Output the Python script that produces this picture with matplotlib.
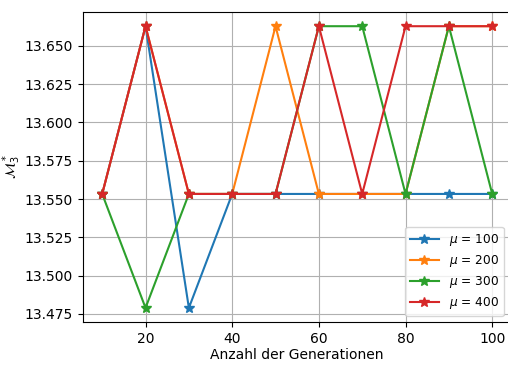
import matplotlib
matplotlib.use("Agg")
import matplotlib.pyplot as plt

generations = [10, 20, 30, 40, 50, 60, 70, 80, 90, 100]
lo, mid, hi = 13.4789, 13.5533, 13.6628
mu100 = [mid, hi, lo, mid, mid, mid, mid, mid, mid, mid]
mu200 = [mid, hi, mid, mid, hi, mid, mid, mid, hi, hi]
mu300 = [mid, lo, mid, mid, mid, hi, hi, mid, hi, mid]
mu400 = [mid, hi, mid, mid, mid, hi, mid, hi, hi, hi]
labels = [r"$\mu$ = 100", r"$\mu$ = 200", r"$\mu$ = 300", r"$\mu$ = 400"]

fig = plt.figure(figsize=(5.08, 3.65), dpi=100)
ax = fig.add_axes([0.1628, 0.1178, 0.8445, 0.849])
for ys, lab in zip([mu100, mu200, mu300, mu400], labels):
    ax.plot(generations, ys, marker="*", markersize=7, label=lab)
ax.set_yticks([13.475, 13.5, 13.525, 13.55, 13.575, 13.6, 13.625, 13.65])
ax.set_xticks([20, 40, 60, 80, 100])
ax.set_xlabel("Anzahl der Generationen")
ax.set_ylabel(r"$\mathcal{M}_3^*$")
ax.yaxis.set_label_coords(-0.139, 0.5)
ax.xaxis.set_label_coords(0.5, -0.084)
ax.grid(True)
ax.legend(loc="lower right", bbox_to_anchor=(0.995, 0.0), fontsize=8.7,
          handlelength=2.4, labelspacing=0.42)
fig.savefig("out.png", dpi=100)
